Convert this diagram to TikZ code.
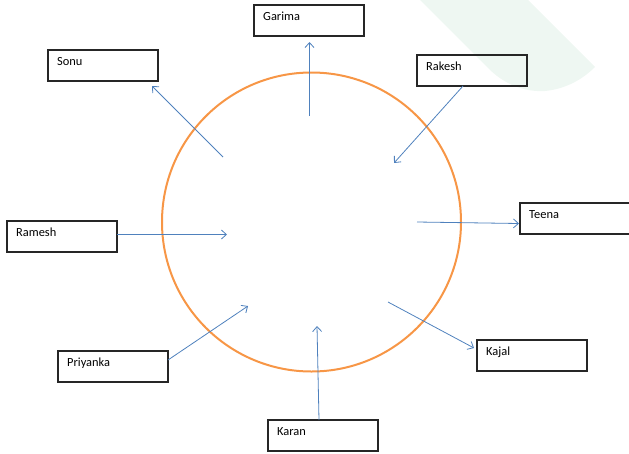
\documentclass[tikz,border=0pt]{standalone}
\usepackage{fontspec}
\setmainfont{Carlito}
\usetikzlibrary{arrows.meta,calc}
\definecolor{ringorange}{HTML}{F79646}
\definecolor{arrowblue}{HTML}{4F81BD}
\definecolor{boxline}{HTML}{262626}
\definecolor{wmark}{HTML}{EEF7F2}
\tikzset{
  namebox/.style={draw=boxline, line width=1.1pt, rectangle, minimum width=110pt, minimum height=31pt,
    inner sep=0pt, outer sep=0pt, anchor=north west},
  lbl/.style={anchor=base west, xshift=9pt, yshift=-15.5pt, inner sep=0pt, font=\fontsize{12.4}{14}\selectfont, text=black},
  link/.style={draw=arrowblue, line width=0.8pt, -{Straight Barb[length=5pt,width=9pt]}},
  ring/.style={draw=ringorange, line width=2pt}
}
\begin{document}
\begin{tikzpicture}[x=1pt,y=-1pt]
\useasboundingbox (0,0) rectangle (629,453);
% faint watermark band
\fill[wmark] (420,0) -- (490,70) .. controls (508,87) and (528,92) .. (545,91)
  .. controls (566,89) and (583,79) .. (595,67) -- (528,0) -- cycle;
% circle
\draw[ring] (311.5,222) circle[radius=149.5];
% boxes
\node[namebox, label={[lbl]north west:Garima}] (garima) at (254,5) {};
\node[namebox, label={[lbl]north west:Sonu}] (sonu) at (48,50) {};
\node[namebox, label={[lbl]north west:Rakesh}] (rakesh) at (417,55) {};
\node[namebox, label={[lbl]north west:Teena}] (teena) at (520,203) {};
\node[namebox, label={[lbl]north west:Ramesh}] (ramesh) at (7,221) {};
\node[namebox, label={[lbl]north west:Kajal}] (kajal) at (477,340) {};
\node[namebox, label={[lbl]north west:Priyanka}] (priyanka) at (58,351) {};
\node[namebox, label={[lbl]north west:Karan}] (karan) at (268,420) {};
% inner free ends
\coordinate (gIn) at (309.5,116);
\coordinate (sIn) at (223,157);
\coordinate (rkIn) at (394,163);
\coordinate (tIn) at (417,222);
\coordinate (rmIn) at (227,234.5);
\coordinate (kjIn) at (388,302);
\coordinate (pIn) at (248,306);
\coordinate (kIn) at (317,326);
% connectors
\draw[link] (gIn) -- ($(garima.south)+(0.5,6)$);
\draw[link] (sIn) -- ($(sonu.south east)+(-6,5)$);
\draw[link] ($(rakesh.south)+(-9,0)$) -- (rkIn);
\draw[link] (tIn) -- ($(teena.west)+(-1,5)$);
\draw[link] ($(ramesh.east)+(0,-2)$) -- (rmIn);
\draw[link] (kjIn) -- ($(kajal.north west)+(-3,8)$);
\draw[link] ($(priyanka.east)+(0,-6.5)$) -- (pIn);
\draw[link] ($(karan.north)+(-4,0)$) -- (kIn);
\end{tikzpicture}
\end{document}
